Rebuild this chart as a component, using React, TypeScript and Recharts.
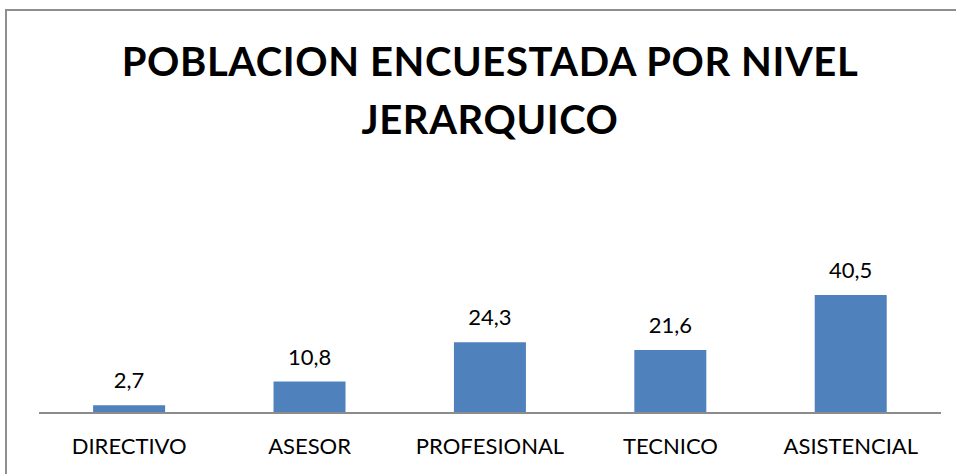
import { BarChart, Bar, XAxis, YAxis, LabelList } from "recharts"

const niveles = ["DIRECTIVO", "ASESOR", "PROFESIONAL", "TECNICO", "ASISTENCIAL"]
const porcentajes = [2.7, 10.8, 24.3, 21.6, 40.5]

const titleLines = ["POBLACION ENCUESTADA POR NIVEL", "JERARQUICO"]

const data = niveles.map((nivel, i) => ({ nivel, valor: porcentajes[i] }))

const font = "Lato, 'Open Sans', sans-serif"

export default function App() {
  return (
    <div
      style={{
        position: "absolute",
        left: 0,
        top: 0,
        width: 956,
        height: 474,
        overflow: "hidden",
        background: "#fff",
        fontFamily: font,
      }}
    >
      {/* chart frame, only top and left edges fall inside the picture */}
      <div
        style={{
          position: "absolute",
          left: 5,
          top: 9,
          width: 1100,
          height: 600,
          border: "2px solid #8e8e8e",
          boxSizing: "border-box",
        }}
      />
      <div
        style={{
          position: "absolute",
          left: 0,
          top: 32,
          width: 980,
          textAlign: "center",
          fontWeight: 700,
          fontSize: 40,
          letterSpacing: 0.6,
          lineHeight: "58px",
          color: "#000",
        }}
      >
        {titleLines.map((t) => (
          <div key={t}>{t}</div>
        ))}
      </div>
      <div style={{ position: "absolute", left: 0, top: 0 }}>
        <BarChart
          width={956}
          height={474}
          data={data}
          barCategoryGap="30%"
          margin={{ top: 282, right: 15, bottom: 31, left: 39 }}
        >
          <XAxis
            dataKey="nivel"
            tickLine={false}
            tickSize={0}
            tickMargin={25}
            stroke="#8c8c8c"
            strokeWidth={2}
            tick={{ fill: "#000", fontSize: 22, fontFamily: font }}
            interval={0}
          />
          <YAxis hide domain={[0, 45]} />
          <Bar dataKey="valor" fill="#4f81bd" isAnimationActive={false}>
            <LabelList
              dataKey="valor"
              position="top"
              offset={17}
              formatter={(v: number) => String(v).replace(".", ",")}
              style={{ fill: "#000", fontSize: 22, fontFamily: font }}
            />
          </Bar>
        </BarChart>
      </div>
    </div>
  )
}
